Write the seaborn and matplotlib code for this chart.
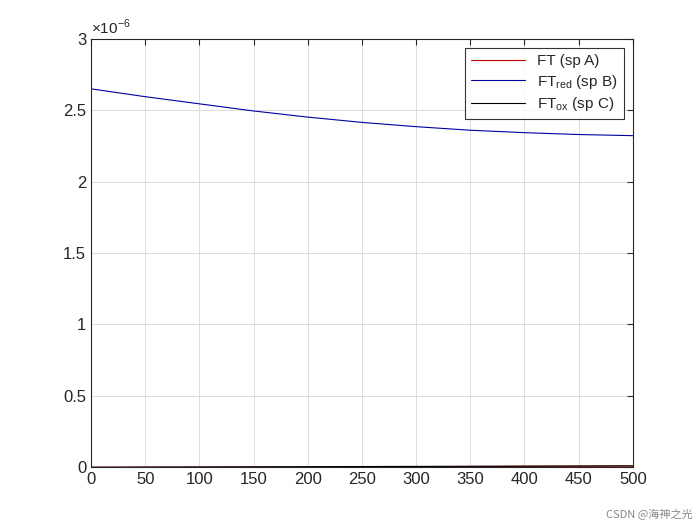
import matplotlib
matplotlib.use("Agg")
import matplotlib.pyplot as plt
import seaborn as sns
import pandas as pd

t = [0, 50, 100, 150, 200, 250, 300, 350, 400, 450, 500]
ft_a = [0.0, 0.0005, 0.001, 0.0015, 0.002, 0.003, 0.004, 0.005, 0.006, 0.007, 0.008]
ft_red = [2.65, 2.595, 2.545, 2.495, 2.452, 2.415, 2.385, 2.36, 2.343, 2.33, 2.322]
ft_ox = [0.0, 0.001, 0.002, 0.003, 0.004, 0.005, 0.006, 0.007, 0.008, 0.009, 0.010]
labels = ["FT (sp A)", "FT$_{\\mathrm{red}}$ (sp B)", "FT$_{\\mathrm{ox}}$ (sp C)"]
colors = ["#c00000", "#0000a0", "black"]

sns.set_style("white")
plt.rcParams['font.family'] = ['Liberation Sans', 'DejaVu Sans']
plt.rcParams['mathtext.fontset'] = 'custom'
plt.rcParams['mathtext.rm'] = 'Liberation Sans'
fig = plt.figure(figsize=(7, 5.25), dpi=100)
ax = fig.add_axes([0.13, 0.11, 0.774, 0.816])
for ys, lab, c in zip([ft_a, ft_red, ft_ox], labels, colors):
    df = pd.DataFrame({"t": t, "v": [y * 1e-6 for y in ys]})
    sns.lineplot(data=df, x="t", y="v", ax=ax, color=c, lw=0.8, label=lab)

ax.set_xlim(0, 500)
ax.set_ylim(0, 3e-6)
ax.set_xticks(range(0, 501, 50))
yt = [0, 0.5, 1, 1.5, 2, 2.5, 3]
ax.set_yticks([v * 1e-6 for v in yt])
ax.set_yticklabels(["0", "0.5", "1", "1.5", "2", "2.5", "3"])
ax.set_xlabel(""); ax.set_ylabel("")
ax.grid(True, color="#dcdcdc", lw=0.7)
ax.tick_params(labelsize=12, direction="in", length=4, top=True, right=True, color="#262626")
for s in ax.spines.values():
    s.set_color("#262626"); s.set_linewidth(0.8)
ax.text(0.0, 1.005, r"$\times$10$^{\mathrm{-6}}$", transform=ax.transAxes, fontsize=11, va="bottom", ha="left")
leg = ax.legend(loc="upper right", fontsize=11, frameon=True, fancybox=False,
                edgecolor="black", handlelength=3.5, borderaxespad=0.6, labelspacing=0.3)
leg.get_frame().set_linewidth(0.8)
fig.text(0.99, 0.01, "CSDN @海神之光", ha="right", va="bottom", fontsize=8, color="#888888",
         family=['Noto Sans CJK SC', 'DejaVu Sans'])
fig.savefig("out.png")
